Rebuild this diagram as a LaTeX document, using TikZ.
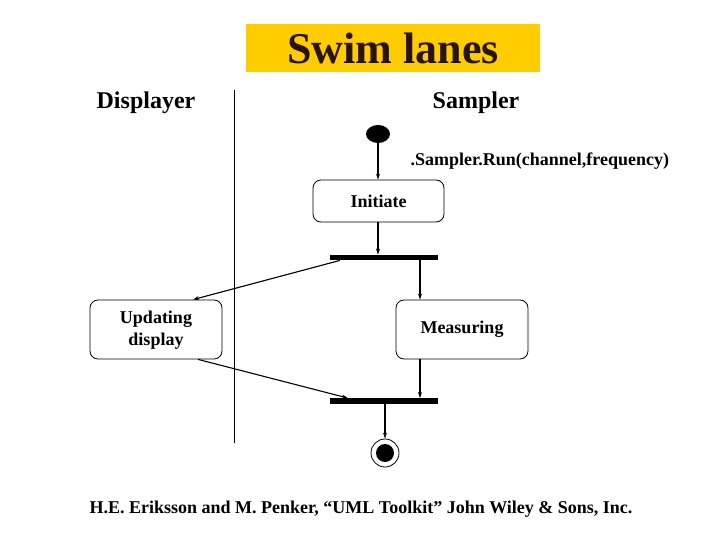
\documentclass[tikz,border=0pt]{standalone}
\usepackage{fontspec}
\setmainfont{Liberation Serif}
\usetikzlibrary{arrows.meta,shapes.geometric}
\definecolor{titleyellow}{RGB}{255,204,0}
\definecolor{titletext}{RGB}{40,20,10}
\tikzset{
  activity/.style={draw, rounded corners=8pt, line width=0.8pt, align=center, font=\fontsize{18}{22}\selectfont\bfseries},
  bar/.style={fill=black, inner sep=0pt, minimum width=108pt, minimum height=5.5pt},
  flow/.style={draw, line width=1.1pt, -{Stealth[length=6pt,width=4pt]}},
  lane/.style={font=\fontsize{24}{28}\selectfont\bfseries}
}
\begin{document}
\begin{tikzpicture}[x=1pt,y=-1pt]
\useasboundingbox (0,0) rectangle (720,540);
% title
\node[fill=titleyellow, minimum width=294pt, minimum height=48pt, inner sep=0pt, text=titletext, font=\fontsize{44}{48}\selectfont\bfseries] (title) at (393,48) {Swim lanes};
\node[lane] (displayer) at (146,103) {Displayer};
\node[lane] (sampler) at (476,103) {Sampler};
\coordinate (laneTop) at (234,90);
\coordinate (laneBot) at (234,443);
\draw[line width=0.8pt] (laneTop) -- (laneBot);
% start
\node[ellipse, fill=black, minimum width=24pt, minimum height=18pt, inner sep=0pt] (start) at (378,134) {};
\node[font=\fontsize{18}{20}\selectfont\bfseries, anchor=west] (runlbl) at (407,161) {.Sampler.Run(channel,frequency)};
\node[activity, minimum width=131pt, minimum height=42pt] (init) at (378.5,201) {Initiate};
\node[bar] (fork) at (384,257.5) {};
\node[activity, minimum width=132pt, minimum height=59pt, text depth=2pt] (upd) at (156,329.5) {Updating\\display};
\node[activity, minimum width=132pt, minimum height=59pt] (meas) at (462,329.5) {Measuring};
\node[bar] (join) at (384,401) {};
\node[circle, draw, line width=0.8pt, minimum size=28pt, inner sep=0pt] (endo) at (385,453) {};
\node[circle, fill=black, minimum size=18pt, inner sep=0pt] (endi) at (385,453) {};
% flows
\draw[flow] (start) -- (init.north -| start);
\draw[flow] (init.south -| start) -- (fork.north -| start);
\draw[flow] ([xshift=10pt]fork.south west) -- ([xshift=37pt]upd.north);
\draw[flow] ([xshift=-42pt]meas.north |- fork.south) -- ([xshift=-42pt]meas.north);
\draw[flow] ([xshift=42pt]upd.south) -- ([xshift=18pt]join.north west);
\draw[flow] ([xshift=-42pt]meas.south) -- ([xshift=-42pt]meas.south |- join.north);
\draw[flow] (join.south -| endo) -- (endo.north);
% footer
\node[font=\fontsize{18}{21}\selectfont\bfseries, anchor=west] (foot) at (86,509) {H.E. Eriksson and M. Penker, “UML Toolkit” John Wiley \& Sons, Inc.};
\end{tikzpicture}
\end{document}
